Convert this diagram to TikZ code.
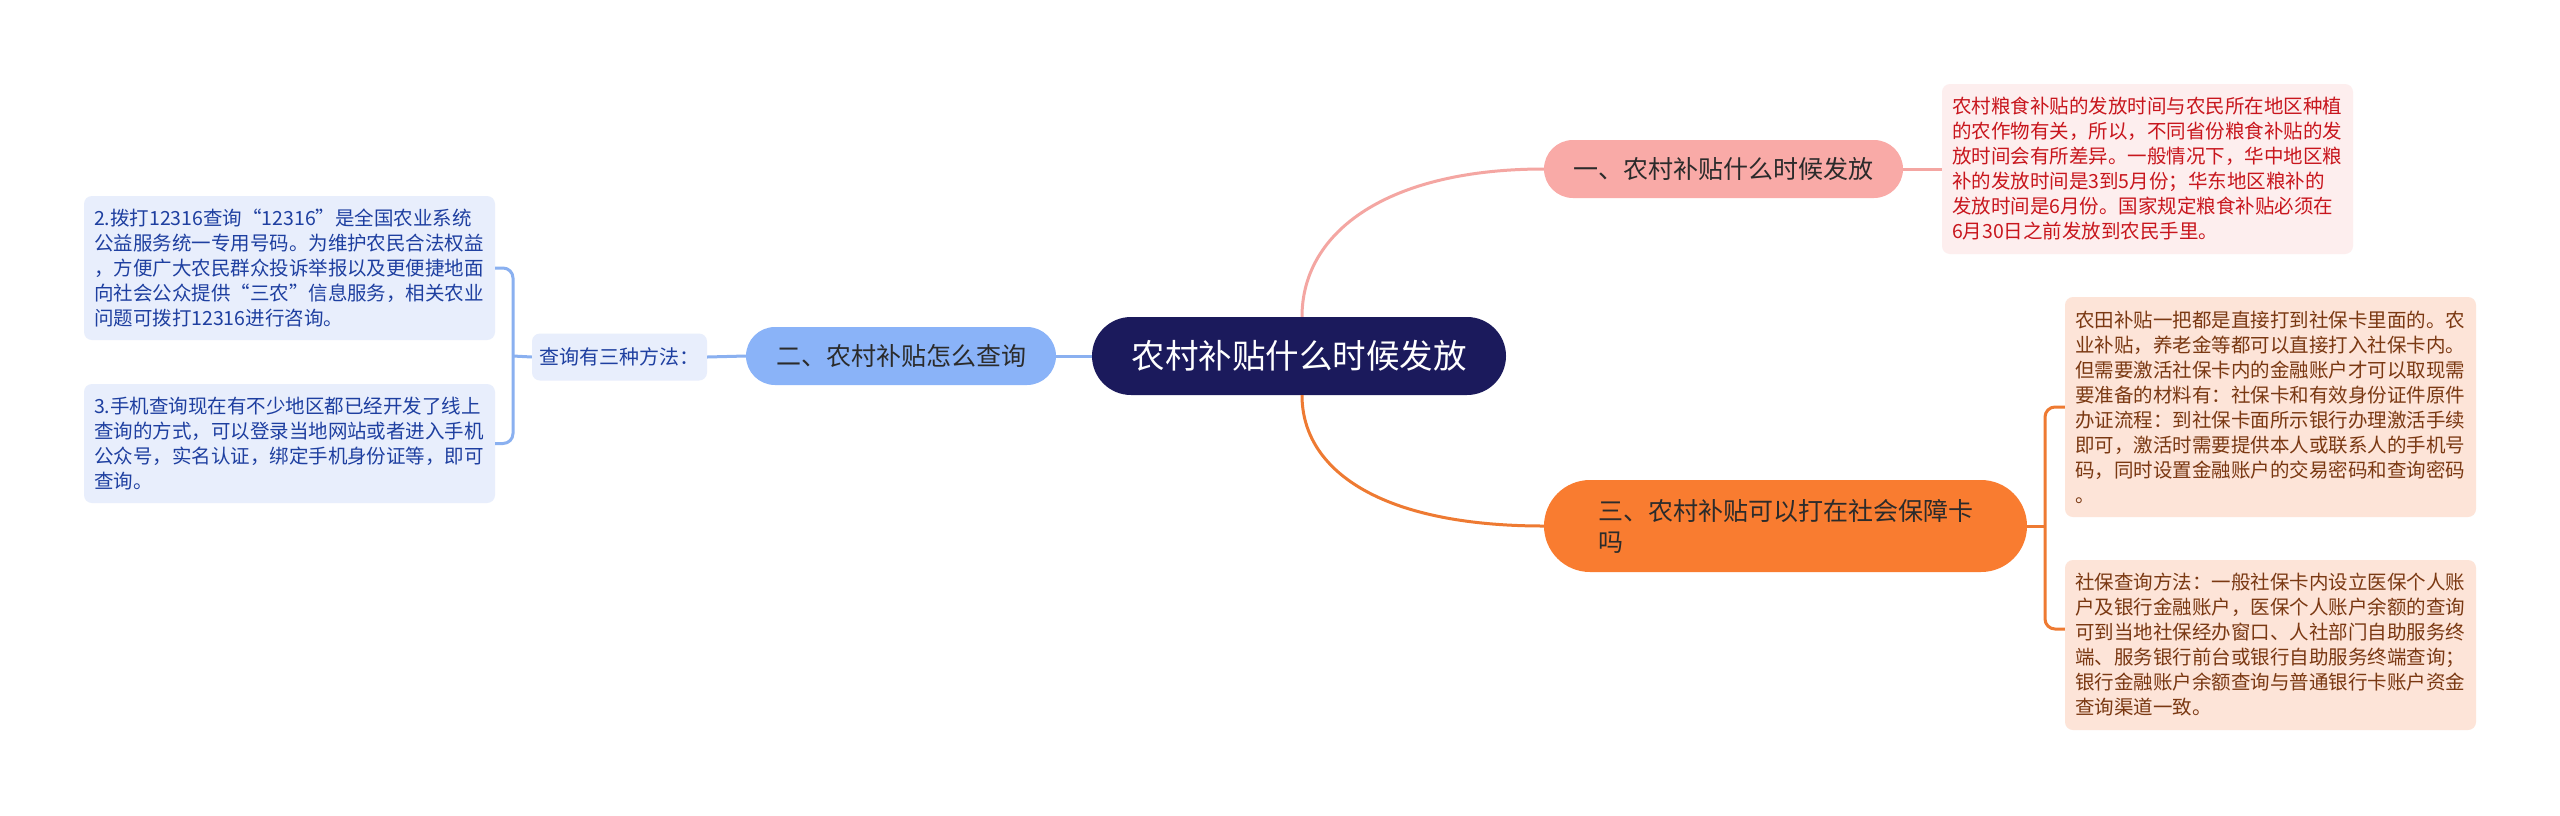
\documentclass[tikz,border=0pt]{standalone}
\usepackage{fontspec}
\setmainfont{Noto Sans CJK SC}
\definecolor{navy}{HTML}{1B1A5C}
\definecolor{pinkb}{HTML}{F9AAA7}
\definecolor{pinkl}{HTML}{F4A6A2}
\definecolor{orangeb}{HTML}{F97C30}
\definecolor{orangel}{HTML}{EE7A32}
\definecolor{blueb}{HTML}{8AB3F8}
\definecolor{bluel}{HTML}{8AB0F0}
\definecolor{leafblue}{HTML}{E8EEFC}
\definecolor{textblue}{HTML}{1E3FA0}
\definecolor{leafpink}{HTML}{FDEEEE}
\definecolor{textred}{HTML}{C8161D}
\definecolor{leaforange}{HTML}{FDE4D8}
\definecolor{textbrown}{HTML}{7A3812}
\definecolor{darktext}{HTML}{2B2B2B}
\begin{document}
\begin{tikzpicture}[x=1pt,y=-1pt,
  branchbox/.style={inner sep=0pt, text=darktext, font=\fontsize{25}{31}\selectfont, align=left},
  leafbox/.style={inner xsep=10pt, inner ysep=0pt, rounded corners=8pt, text width=391pt, align=left,
    minimum width=411pt, font=\fontsize{19.5}{25}\selectfont},
  pinkline/.style={draw=pinkl, line width=3pt},
  orangeline/.style={draw=orangel, line width=3pt},
  blueline/.style={draw=bluel, line width=3pt},
]
\useasboundingbox[fill=white] (0,0) rectangle (2560,815);

% central
\node[fill=navy, text=white, rounded corners=39pt, minimum width=414pt, minimum height=78pt,
  inner sep=0pt, font=\fontsize{33.5}{40}\selectfont] (c) at (1299,356) {农村补贴什么时候发放};

% branches
\node[branchbox, fill=pinkb, rounded corners=29pt, minimum width=359pt, minimum height=58pt] (b1) at (1723.5,169) {一、农村补贴什么时候发放};
\node[branchbox, fill=blueb, rounded corners=29pt, minimum width=310pt, minimum height=58pt] (b2) at (901,356) {二、农村补贴怎么查询};
\node[branchbox, fill=orangeb, rounded corners=46pt, minimum width=483pt, minimum height=92pt] (b3) at (1785.5,526) {三、农村补贴可以打在社会保障卡\\吗};

% left side
\node[fill=leafblue, text=textblue, rounded corners=8pt, minimum width=175pt, minimum height=47pt, inner sep=0pt,
  font=\fontsize{20}{24}\selectfont] (chk) at (619.5,357) {查询有三种方法：};

\node[leafbox, fill=leafblue, text=textblue, minimum height=144pt] (l1) at (289.5,268) {2.拨打12316查询“12316”是全国农业系统\\公益服务统一专用号码。为维护农民合法权益\\，方便广大农民群众投诉举报以及更便捷地面\\向社会公众提供“三农”信息服务，相关农业\\问题可拨打12316进行咨询。};
\node[leafbox, fill=leafblue, text=textblue, minimum height=119pt] (l2) at (289.5,443.5) {3.手机查询现在有不少地区都已经开发了线上\\查询的方式，可以登录当地网站或者进入手机\\公众号，实名认证，绑定手机身份证等，即可\\查询。};

% right side
\node[leafbox, fill=leafpink, text=textred, minimum height=170pt] (r1) at (2147.5,169) {农村粮食补贴的发放时间与农民所在地区种植\\的农作物有关，所以，不同省份粮食补贴的发\\放时间会有所差异。一般情况下，华中地区粮\\补的发放时间是3到5月份；华东地区粮补的\\发放时间是6月份。国家规定粮食补贴必须在\\6月30日之前发放到农民手里。};
\node[leafbox, fill=leaforange, text=textbrown, minimum height=220pt] (r2) at (2270.5,407) {农田补贴一把都是直接打到社保卡里面的。农\\业补贴，养老金等都可以直接打入社保卡内。\\但需要激活社保卡内的金融账户才可以取现需\\要准备的材料有：社保卡和有效身份证件原件\\办证流程：到社保卡面所示银行办理激活手续\\即可，激活时需要提供本人或联系人的手机号\\码，同时设置金融账户的交易密码和查询密码\\。};
\node[leafbox, fill=leaforange, text=textbrown, minimum height=170pt] (r3) at (2270.5,645) {社保查询方法：一般社保卡内设立医保个人账\\户及银行金融账户，医保个人账户余额的查询\\可到当地社保经办窗口、人社部门自助服务终\\端、服务银行前台或银行自助服务终端查询；\\银行金融账户余额查询与普通银行卡账户资金\\查询渠道一致。};

% connectors
\coordinate (lb) at (513,356);
\coordinate (rb) at (2045,526);
\draw[pinkline] ([xshift=3pt]c.north) .. controls (1302,230) and (1390,169) .. (b1.west);
\draw[orangeline] ([xshift=3pt]c.south) .. controls (1302,470) and (1380,526) .. (b3.west);
\draw[pinkline] (b1.east) -- (r1.west);
\draw[blueline] (c.west) -- (b2.east);
\draw[blueline] (b2.west) -- (chk.east);
\draw[blueline] (chk.west) -- (lb);
\draw[blueline, rounded corners=10pt] (l1.east) -| (lb) |- (l2.east);
\draw[orangeline] (b3.east) -- (rb);
\draw[orangeline, rounded corners=10pt] (r2.west) -| (rb) |- ([yshift=16pt]r3.west);
\end{tikzpicture}
\end{document}
